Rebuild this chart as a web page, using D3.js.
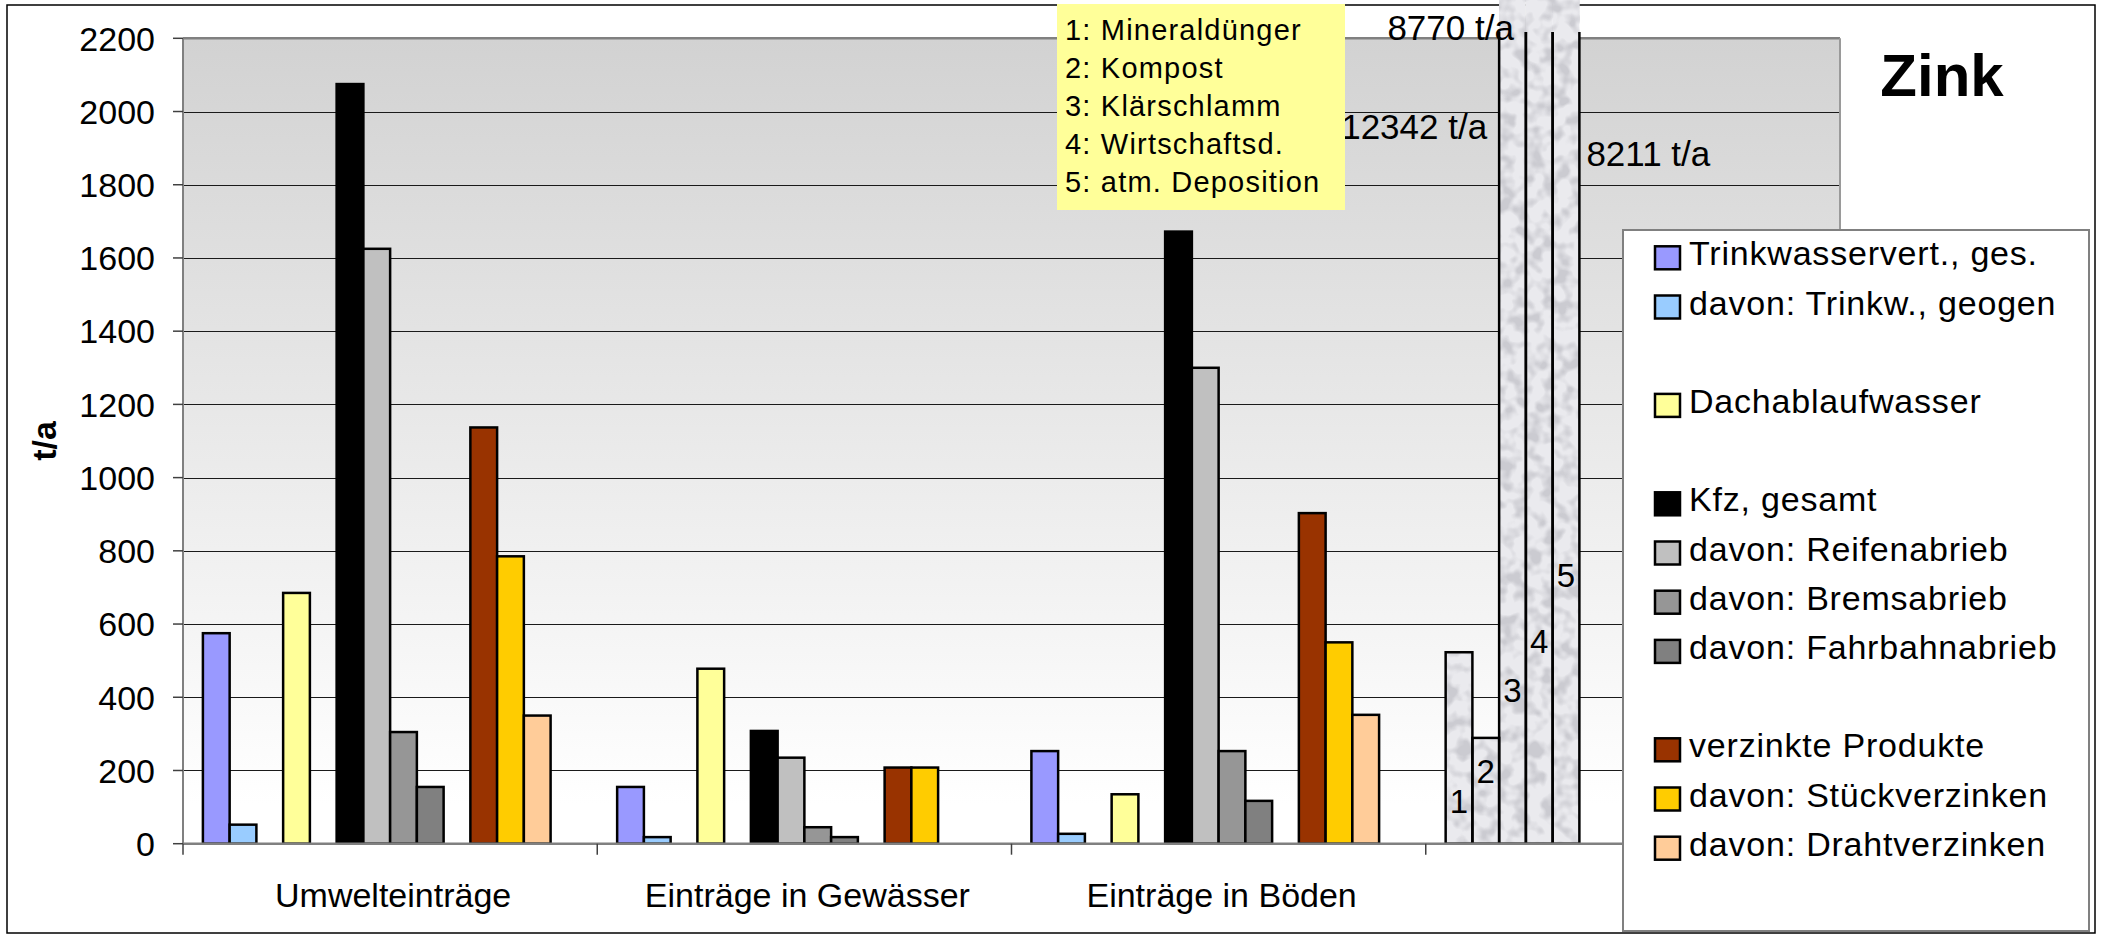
<!DOCTYPE html>
<html><head><meta charset="utf-8">
<script src="https://cdn.jsdelivr.net/npm/d3@7"></script>
<style>
body{margin:0;background:#fff}
svg{display:block;font-family:"Liberation Sans",Arial,sans-serif}
</style>
</head><body>
<script>
// ---------- data ----------
const categories = ["Umwelteinträge", "Einträge in Gewässer", "Einträge in Böden", ""];
const yTicks = [0, 200, 400, 600, 800, 1000, 1200, 1400, 1600, 1800, 2000, 2200];

const seriesNames = [
  "Trinkwasservert., ges.", "davon: Trinkw., geogen", "",
  "Dachablaufwasser", "",
  "Kfz, gesamt", "davon: Reifenabrieb", "davon: Bremsabrieb", "davon: Fahrbahnabrieb", "",
  "verzinkte Produkte", "davon: Stückverzinken", "davon: Drahtverzinken", ""
];
const seriesColors = [
  "#9999FF", "#99CCFF", null,
  "#FFFF99", null,
  "#000000", "#C0C0C0", "#969696", "#808080", null,
  "#993300", "#FFCC00", "#FFCC99", null
];

// values per category (Umwelteinträge, Gewässer, Böden)
const trinkwGes    = [575, 155, 253];
const trinkwGeogen = [52, 18, 27];
const dachablauf   = [685, 478, 135];
const kfzGesamt    = [2075, 308, 1672];
const reifen       = [1625, 235, 1300];
const brems        = [305, 45, 253];
const fahrbahn     = [155, 18, 117];
const verzinkt     = [1137, 208, 903];
const stueck       = [785, 208, 550];
const draht        = [350, null, 352];

const seriesValues = [trinkwGes, trinkwGeogen, [], dachablauf, [], kfzGesamt, reifen, brems, fahrbahn, [], verzinkt, stueck, draht, []];

// 4th category: Einträge in Böden by source
const quellenValues = [523, 289, 12342, 8770, 8211];
const quellenNumbers = ["1", "2", "3", "4", "5"];
const quellenNumberAt = [84, 166, 387, 521, 701];     // label anchor heights (t/a)
const quellenNames = ["1: Mineraldünger", "2: Kompost", "3: Klärschlamm", "4: Wirtschaftsd.", "5: atm. Deposition"];
const offScaleLabels = ["", "", "12342 t/a", "8770 t/a", "8211 t/a"];
const offScaleLabelAt = [0, 0, 1925, 2196, 1852];   // anchor heights (t/a)
const offScaleLabelSide = ["", "", "left", "left", "right"];

// ---------- layout ----------
const W = 2103, H = 934;
const L = 183, R = 1840, T = 38.3, B = 843.7;

const svg = d3.select("body").append("svg").attr("width", W).attr("height", H);
const defs = svg.append("defs");

const grad = defs.append("linearGradient").attr("id", "bg").attr("x1", 0).attr("y1", 0).attr("x2", 0).attr("y2", 1);
grad.append("stop").attr("offset", "0%").attr("stop-color", "#d2d2d2");
grad.append("stop").attr("offset", "95%").attr("stop-color", "#ffffff");
grad.append("stop").attr("offset", "100%").attr("stop-color", "#ffffff");

const f = defs.append("filter").attr("id", "stone").attr("x", 0).attr("y", 0).attr("width", 1).attr("height", 1);
f.append("feTurbulence").attr("type", "fractalNoise").attr("baseFrequency", "0.07").attr("numOctaves", 2).attr("seed", 7).attr("result", "n");
f.append("feColorMatrix").attr("in", "n").attr("type", "matrix")
  .attr("values", "0 0 0 0 0.6  0 0 0 0 0.6  0 0 0 0 0.64  4 0 0 0 -1.75");

defs.append("clipPath").attr("id", "outlineClip").append("rect").attr("x", 0).attr("y", 32).attr("width", W).attr("height", H);

const x0 = d3.scaleBand().domain(d3.range(categories.length)).range([L, R]).paddingInner(0).paddingOuter(0);
const x1 = d3.scaleBand().domain(d3.range(seriesNames.length)).range([0, x0.bandwidth()]).paddingInner(0).paddingOuter(0.744);
const y = d3.scaleLinear().domain([0, 2200]).range([B, T]);

// chart area
svg.append("rect").attr("x", 0).attr("y", 0).attr("width", W).attr("height", H).attr("fill", "#fff");
svg.append("rect").attr("x", 7).attr("y", 5).attr("width", 2088).attr("height", 928)
  .attr("fill", "none").attr("stroke", "#000").attr("stroke-width", 1.5);

// plot area
svg.append("rect").attr("x", L).attr("y", T).attr("width", R - L).attr("height", B - T).attr("fill", "url(#bg)");

// gridlines
svg.append("g").selectAll("line").data(yTicks.filter(d => d > 0 && d < 2200)).join("line")
  .attr("x1", L).attr("x2", R).attr("y1", d => Math.round(y(d)) + 0.5).attr("y2", d => Math.round(y(d)) + 0.5)
  .attr("stroke", "#1a1a1a").attr("stroke-width", 1);

// plot border (top, right)
svg.append("line").attr("x1", L).attr("x2", R).attr("y1", T).attr("y2", T).attr("stroke", "#808080").attr("stroke-width", 2.5);
svg.append("line").attr("x1", R).attr("x2", R).attr("y1", T).attr("y2", B).attr("stroke", "#9a9a9a").attr("stroke-width", 2);

// bars
const gBars = svg.append("g");
seriesValues.forEach((vals, s) => {
  if (!seriesColors[s]) return;
  vals.forEach((v, i) => {
    if (v == null) return;
    gBars.append("rect")
      .attr("x", x0(i) + x1(s)).attr("width", x1.bandwidth())
      .attr("y", y(v)).attr("height", y(0) - y(v))
      .attr("fill", seriesColors[s]).attr("stroke", "#000").attr("stroke-width", 2.5);
  });
});

// textured source bars in 4th category
const gQ = svg.append("g");
quellenValues.forEach((v, j) => {
  const bx = x0(3) + x1(j), bw = x1.bandwidth();
  const top = Math.max(y(v), 0);
  gQ.append("rect").attr("x", bx).attr("y", top).attr("width", bw).attr("height", y(0) - top).attr("fill", "#eaeaee");
  gQ.append("rect").attr("x", bx).attr("y", top).attr("width", bw).attr("height", y(0) - top).attr("filter", "url(#stone)");
});
quellenValues.forEach((v, j) => {
  const bx = x0(3) + x1(j), bw = x1.bandwidth();
  gQ.append("rect").attr("x", bx).attr("y", y(v)).attr("width", bw).attr("height", y(0) - y(v))
    .attr("fill", "none").attr("stroke", "#000").attr("stroke-width", 2.5).attr("clip-path", "url(#outlineClip)");
});
quellenValues.forEach((v, j) => {
  const bx = x0(3) + x1(j), bw = x1.bandwidth();
  gQ.append("text").attr("x", bx + bw / 2).attr("y", y(quellenNumberAt[j]))
    .attr("text-anchor", "middle").attr("font-size", 33).attr("fill", "#000").text(quellenNumbers[j]);
  if (offScaleLabels[j]) {
    const left = offScaleLabelSide[j] === "left";
    gQ.append("text").attr("x", left ? bx - 12 : bx + bw + 7).attr("y", y(offScaleLabelAt[j]))
      .attr("text-anchor", left ? "end" : "start").attr("font-size", 35).text(offScaleLabels[j]);
  }
});

// baseline & left axis
svg.append("line").attr("x1", L).attr("x2", R).attr("y1", B).attr("y2", B).attr("stroke", "#808080").attr("stroke-width", 2.5);
svg.append("line").attr("x1", L).attr("x2", L).attr("y1", T).attr("y2", B).attr("stroke", "#808080").attr("stroke-width", 2);

// y ticks + labels
const gy = svg.append("g");
gy.selectAll("line").data(yTicks).join("line")
  .attr("x1", L - 10).attr("x2", L).attr("y1", d => y(d)).attr("y2", d => y(d)).attr("stroke", "#404040").attr("stroke-width", 1.5);
gy.selectAll("text").data(yTicks).join("text")
  .attr("x", 155).attr("y", d => y(d)).attr("dy", "0.36em").attr("text-anchor", "end")
  .attr("font-size", 34).text(d => d);

// category ticks + labels
const catEdges = d3.range(categories.length).map(i => x0(i)).concat([R]);
svg.append("g").selectAll("line").data(catEdges).join("line")
  .attr("x1", d => d).attr("x2", d => d).attr("y1", B).attr("y2", B + 11).attr("stroke", "#404040").attr("stroke-width", 1.5);
svg.append("g").selectAll("text").data(categories).join("text")
  .attr("x", (d, i) => x0(i) + x0.bandwidth() / 2 + 3).attr("y", 907)
  .attr("text-anchor", "middle").attr("font-size", 34).text(d => d);

// y title
svg.append("text").attr("transform", `translate(56,${(T + B) / 2}) rotate(-90)`)
  .attr("text-anchor", "middle").attr("font-size", 34).attr("font-weight", "bold").text("t/a");

// yellow source box
const gBox = svg.append("g");
gBox.append("rect").attr("x", 1057).attr("y", 4).attr("width", 288).attr("height", 206).attr("fill", "#FFFF99");
gBox.selectAll("text").data(quellenNames).join("text")
  .attr("x", 1065).attr("y", (d, i) => 40 + i * 38.1)
  .attr("font-size", 29).attr("letter-spacing", 1.2).text(d => d);

// title
svg.append("text").attr("x", 1942).attr("y", 96).attr("text-anchor", "middle")
  .attr("font-size", 60).attr("font-weight", "bold").text("Zink");

// legend
const gL = svg.append("g");
gL.append("rect").attr("x", 1623).attr("y", 230).attr("width", 466).attr("height", 701)
  .attr("fill", "#fff").attr("stroke", "#808080").attr("stroke-width", 2);
seriesNames.forEach((name, i) => {
  if (!seriesColors[i]) return;
  const cy = 258.3 + i * 49.2;
  gL.append("rect").attr("x", 1655).attr("y", cy - 12).attr("width", 25).attr("height", 23)
    .attr("fill", seriesColors[i]).attr("stroke", "#000").attr("stroke-width", 2.5);
  gL.append("text").attr("x", 1689).attr("y", cy + 7).attr("font-size", 34).attr("letter-spacing", 0.8).text(name);
});
</script>
</body></html>
